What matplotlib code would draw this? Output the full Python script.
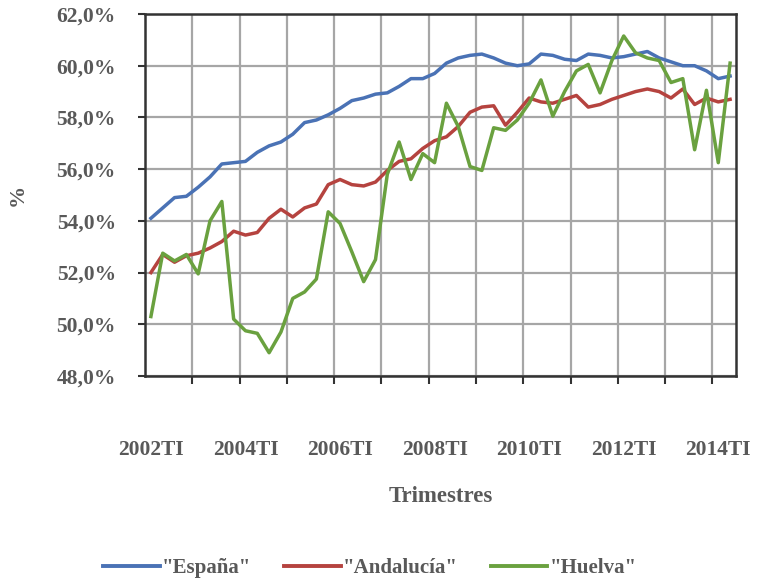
import matplotlib.pyplot as plt
import numpy as np
from matplotlib.ticker import FuncFormatter

# Tasa de actividad trimestral, 2002TI - 2014TII
quarters = [f"{y}T{q}" for y in range(2002, 2015) for q in ("I", "II", "III", "IV")][:50]
label_quarters = ["2002TI", "2004TI", "2006TI", "2008TI", "2010TI", "2012TI", "2014TI"]

espana = [
    54.1, 54.5, 54.9, 54.95, 55.3, 55.7, 56.2, 56.25, 56.3, 56.65,
    56.9, 57.05, 57.35, 57.8, 57.9, 58.1, 58.35, 58.65, 58.75, 58.9,
    58.95, 59.2, 59.5, 59.5, 59.7, 60.1, 60.3, 60.4, 60.45, 60.3,
    60.1, 60.0, 60.07, 60.45, 60.4, 60.25, 60.2, 60.45, 60.4, 60.3,
    60.35, 60.45, 60.55, 60.3, 60.15, 60.0, 60.0, 59.8, 59.5, 59.6,
]
andalucia = [
    52.0, 52.7, 52.4, 52.65, 52.75, 52.95, 53.2, 53.6, 53.45, 53.55,
    54.1, 54.45, 54.15, 54.5, 54.65, 55.4, 55.6, 55.4, 55.35, 55.5,
    55.95, 56.3, 56.4, 56.8, 57.1, 57.25, 57.65, 58.2, 58.4, 58.45,
    57.7, 58.2, 58.75, 58.6, 58.55, 58.7, 58.85, 58.4, 58.5, 58.7,
    58.85, 59.0, 59.1, 59.0, 58.75, 59.1, 58.5, 58.75, 58.6, 58.7,
]
huelva = [
    50.3, 52.75, 52.45, 52.7, 51.95, 54.0, 54.75, 50.2, 49.75, 49.65,
    48.9, 49.7, 51.0, 51.25, 51.75, 54.35, 53.9, 52.8, 51.65, 52.5,
    55.8, 57.05, 55.6, 56.6, 56.25, 58.55, 57.65, 56.1, 55.95, 57.6,
    57.5, 57.9, 58.55, 59.45, 58.05, 59.0, 59.8, 60.05, 58.95, 60.2,
    61.15, 60.5, 60.3, 60.2, 59.35, 59.5, 56.75, 59.05, 56.25, 60.1,
]

series = [
    ('"España"', espana, "#4a72b5"),
    ('"Andalucía"', andalucia, "#b5433f"),
    ('"Huelva"', huelva, "#6aa13f"),
]

TEXT = "#595959"
FONT = "Liberation Serif"

fig = plt.figure(figsize=(7.57, 5.81), dpi=100, facecolor="white")
ax = fig.add_axes([145 / 757, 1 - 376 / 581, (736 - 145) / 757, (376 - 14) / 581])

x = np.arange(len(quarters))
for name, values, color in series:
    ax.plot(x, values, color=color, lw=2.5, label=name, solid_joinstyle="round")

ax.set_xlim(-0.5, len(quarters) - 0.5)
ax.set_ylim(48, 62)
ax.set_yticks(np.arange(48, 62.1, 2))
ax.yaxis.set_major_formatter(FuncFormatter(lambda v, _: f"{v:.1f}%".replace(".", ",")))

# grid lines every 4 quarters, labels every 8
ax.set_xticks(np.arange(3.5, len(quarters) - 1, 4))
ax.set_xticklabels([])
label_pos = [quarters.index(q) for q in label_quarters]
ax.set_xticks(label_pos, label_quarters, minor=True)
ax.tick_params(axis="x", which="major", length=6, width=1.5, color="#333333", direction="out")
ax.tick_params(axis="x", which="minor", length=0, pad=46)
ax.tick_params(axis="y", length=5, width=1.5, color="#333333", pad=16)

ax.grid(True, which="major", color="#a6a6a6", lw=1.6)
ax.set_axisbelow(True)
for s in ax.spines.values():
    s.set_color("#333333")
    s.set_linewidth(1.8)

for lab in ax.get_xticklabels(minor=True) + ax.get_yticklabels():
    lab.set_fontfamily(FONT)
    lab.set_fontweight("bold")
    lab.set_fontsize(15.5)
    lab.set_color(TEXT)

ax.text(0.5, -0.334, "Trimestres", transform=ax.transAxes, ha="center", va="center",
        fontsize=16.5, fontweight="bold", family=FONT, color=TEXT)
fig.text(18 / 757, 1 - 195 / 581, "%", rotation=90, ha="center", va="center",
         fontsize=16, fontweight="bold", family=FONT, color=TEXT)

leg = fig.legend(loc="center", bbox_to_anchor=(370 / 757, 1 - 568 / 581), ncol=3,
                 frameon=False, handlelength=2.7, handletextpad=0.1, columnspacing=1.6,
                 prop={"family": FONT, "weight": "bold", "size": 15})
for t in leg.get_texts():
    t.set_color(TEXT)
for h in leg.get_lines():
    h.set_linewidth(2.8)

fig.savefig("out.png", dpi=100, facecolor="white")
